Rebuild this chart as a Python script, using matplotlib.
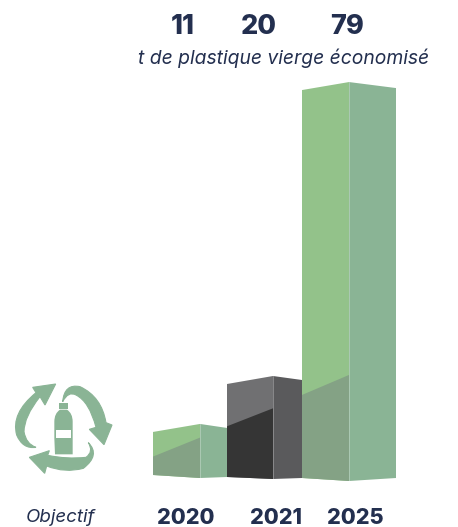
import matplotlib
matplotlib.use('Agg')
import matplotlib.pyplot as plt
from matplotlib.patches import Polygon, PathPatch
from matplotlib.path import Path

years = ['2020', '2021', '2025']
tonnes = [11, 20, 79]
inner_tonnes = [8, 14, 21]
subtitle = 't de plastique vierge économisé'
objective_label = 'Objectif'

# layout, in pixels of the 458x527 picture
W, H = 458, 527
PX_PER_T = 5.05
BASE_PX = 480
left_x = [153, 227, 302]
mid_x = [200, 273, 349]
right_x = [227, 302, 396]
bottom_mid_px = [478, 479, 481]
bottom_left_rise = [3, 2, 3]
bottom_right_rise = [1, 1, 3]
top_nudge = [-1.5, 2, 0]
top_left_drop = [8, 8, 8]
top_right_drop = [4, 4, 6]
inner_drop = [19, 18, 20]
value_x = [183, 259, 347]
year_x = [186, 276, 355]

front_col = ['#93c28a', '#707072', '#93c28a']
side_col = ['#8ab495', '#5a5a5c', '#8ab495']
inner_col = ['#84a285', '#353535', '#84a285']
TEXT = '#232f4f'
ICON = '#8ab495'
FONT = 'Inter'

fig = plt.figure(figsize=(W / 100, H / 100), dpi=100)
ax = fig.add_axes([0, 0, 1, 1])
ax.set_xlim(0, W)
ax.set_ylim((BASE_PX - H) / PX_PER_T, BASE_PX / PX_PER_T)
ax.axis('off')


def y_px(p):
    return (BASE_PX - p) / PX_PER_T


for i in range(len(years)):
    base = bottom_mid_px[i]
    top = y_px(base) + tonnes[i] + top_nudge[i] / PX_PER_T
    bl = y_px(base - bottom_left_rise[i])
    bm = y_px(base)
    br = y_px(base - bottom_right_rise[i])
    tl = top - top_left_drop[i] / PX_PER_T
    tr = top - top_right_drop[i] / PX_PER_T
    inner_mid = bm + inner_tonnes[i]
    inner_left = inner_mid - inner_drop[i] / PX_PER_T
    ax.add_patch(Polygon([(left_x[i], bl), (mid_x[i], bm), (mid_x[i], top), (left_x[i], tl)],
                         fc=front_col[i], ec='none'))
    ax.add_patch(Polygon([(left_x[i], bl), (mid_x[i], bm), (mid_x[i], inner_mid), (left_x[i], inner_left)],
                         fc=inner_col[i], ec='none'))
    ax.add_patch(Polygon([(mid_x[i], bm), (right_x[i], br), (right_x[i], tr), (mid_x[i], top)],
                         fc=side_col[i], ec='none'))
    ax.plot([mid_x[i], mid_x[i]], [bm, top], color='white', lw=0.5, alpha=0.4)
    ax.text(value_x[i], y_px(26.5), str(tonnes[i]), ha='center', va='center', fontsize=19.5,
            fontweight=800, color=TEXT, family=FONT)
    ax.text(year_x[i], y_px(518), years[i], ha='center', va='center', fontsize=15.5,
            fontweight=800, color=TEXT, family=FONT)

ax.text(283.5, y_px(58.5), subtitle, ha='center', va='center', fontsize=13.9, style='italic',
        color=TEXT, family=FONT)
ax.text(60, y_px(518), objective_label, ha='center', va='center', fontsize=13.5, style='italic',
        color=TEXT, family=FONT)


def icon_pt(x, y):
    return (x / 3, y_px(370 + y / 3))


def icon_shape(points, codes, fc=ICON, lw=0):
    verts = [icon_pt(x, y) for x, y in points]
    ax.add_patch(PathPatch(Path(verts, codes), fc=fc, ec=fc if lw else 'none', lw=lw))


M, L, C, Z = Path.MOVETO, Path.LINETO, Path.CURVE3, Path.CLOSEPOLY

icon_shape([(167, 42), (135, 105), (120, 80), (72, 140), (72, 185), (78, 222), (108, 232),
            (68, 238), (50, 195), (32, 130), (108, 68), (98, 52), (167, 42), (167, 42)],
           [M, L, L, C, C, C, C, C, C, C, C, L, L, Z], lw=0.8)
icon_shape([(188, 95), (193, 40), (240, 50), (305, 80), (318, 158), (336, 165), (312, 224),
            (268, 178), (288, 172), (268, 95), (228, 75), (205, 62), (188, 95), (188, 95)],
           [M, C, C, C, C, L, L, L, L, C, C, C, C, Z], lw=0.8)
icon_shape([(265, 218), (302, 255), (250, 295), (195, 310), (140, 288), (134, 310), (88, 262),
            (148, 242), (143, 256), (200, 268), (258, 262), (282, 245), (265, 218), (265, 218)],
           [M, C, C, C, C, L, L, L, L, C, C, C, C, Z], lw=0.8)

# bottle
icon_shape([(177, 100), (204, 100), (204, 117), (177, 117), (177, 100)], [M, L, L, L, Z])
icon_shape([(180, 119), (201, 119), (218, 130), (218, 155), (218, 205), (218, 253), (165, 253),
            (163, 205), (163, 155), (163, 130), (180, 119), (180, 119)],
           [M, L, C, C, L, L, L, L, L, C, C, Z])
icon_shape([(168, 180), (213, 180), (213, 205), (168, 205), (168, 180)], [M, L, L, L, Z], fc='white')

fig.savefig('out.png', dpi=100, facecolor='white')
